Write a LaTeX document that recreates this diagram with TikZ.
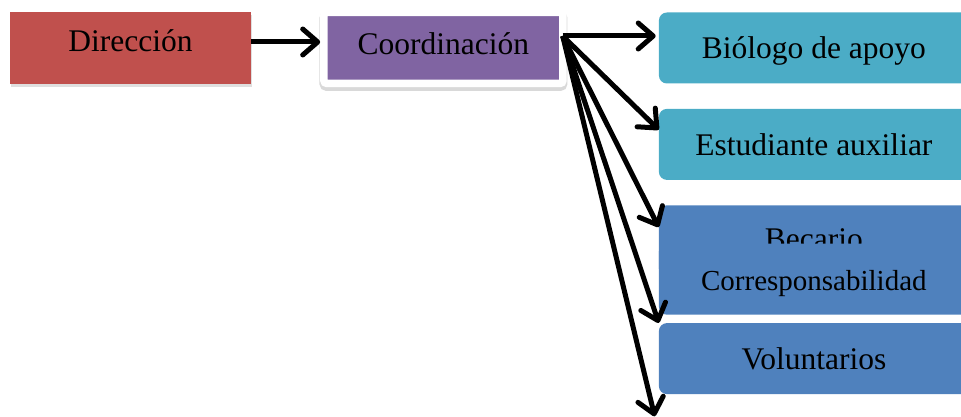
\documentclass[tikz,border=0pt]{standalone}
\usepackage{fontspec}
\setmainfont{Liberation Serif}
\usetikzlibrary{shapes,arrows.meta,positioning,calc,shadows}

\definecolor{dirred}{HTML}{C0504D}
\definecolor{coordpurple}{HTML}{8064A2}
\definecolor{staffteal}{HTML}{4BACC6}
\definecolor{staffblue}{HTML}{4F81BD}

\begin{document}
\begin{tikzpicture}[x=1pt, y=-1pt, font=\fontsize{31.5}{36}\selectfont,
    box/.style={rectangle, rounded corners=8pt, minimum width=310pt, minimum height=71pt, inner sep=0pt,
                text height=28pt, text depth=6pt},
    link/.style={-{Straight Barb[length=15pt, width=26pt, round]}, line width=5pt}]
    \clip (0,0) rectangle (961,417);

    % Direction and coordination
    \node [rectangle, fill=dirred, minimum width=241pt, minimum height=72pt, inner sep=0pt,
           text height=20pt, text depth=12pt,
           drop shadow={shadow xshift=0.5pt, shadow yshift=-3.5pt, opacity=.25}] (dir) at (130.5,48) {Dirección};
    \node [rectangle, fill=coordpurple, draw=white, line width=7.5pt, rounded corners=3pt,
           minimum width=239pt, minimum height=71pt, inner sep=0pt, text height=20pt, text depth=6pt,
           preaction={draw=black, opacity=.15, line width=9pt, transform canvas={yshift=-3pt}},
           right=69pt of dir] (coord) {Coordinación};

    % Staff
    \node [box, fill=staffteal, right=92pt of coord] (biologo) {Biólogo de apoyo};
    \node [box, fill=staffteal, below=25pt of biologo] (estudiante) {Estudiante auxiliar};
    \node [box, fill=staffblue, below=25pt of estudiante, text height=26pt, text depth=8pt] (becario) {Becario};
    \node [box, fill=staffblue, below=-33pt of becario, font=\fontsize{29}{34}\selectfont] (corresp) {Corresponsabilidad};
    \node [box, fill=staffblue, below=8pt of corresp] (voluntarios) {Voluntarios};

    % Arrows
    \coordinate (fan) at ($(coord.east)+(-4,-12)$);
    \coordinate (extra) at ($(voluntarios.south west)+(-4,22)$);
    \draw [link] ([yshift=6pt]dir.east) -- ([yshift=6pt]dir.east -| coord.west);
    \draw [link, shorten >=3pt] (fan) -- (fan -| biologo.west);
    \draw [link] (fan) -- ([yshift=-21pt]estudiante.north west);
    \draw [link] (fan) -- ([yshift=-22pt]becario.north west);
    \draw [link] (fan) -- (voluntarios.north west);
    \draw [link] (fan) -- (extra);
\end{tikzpicture}
\end{document}
